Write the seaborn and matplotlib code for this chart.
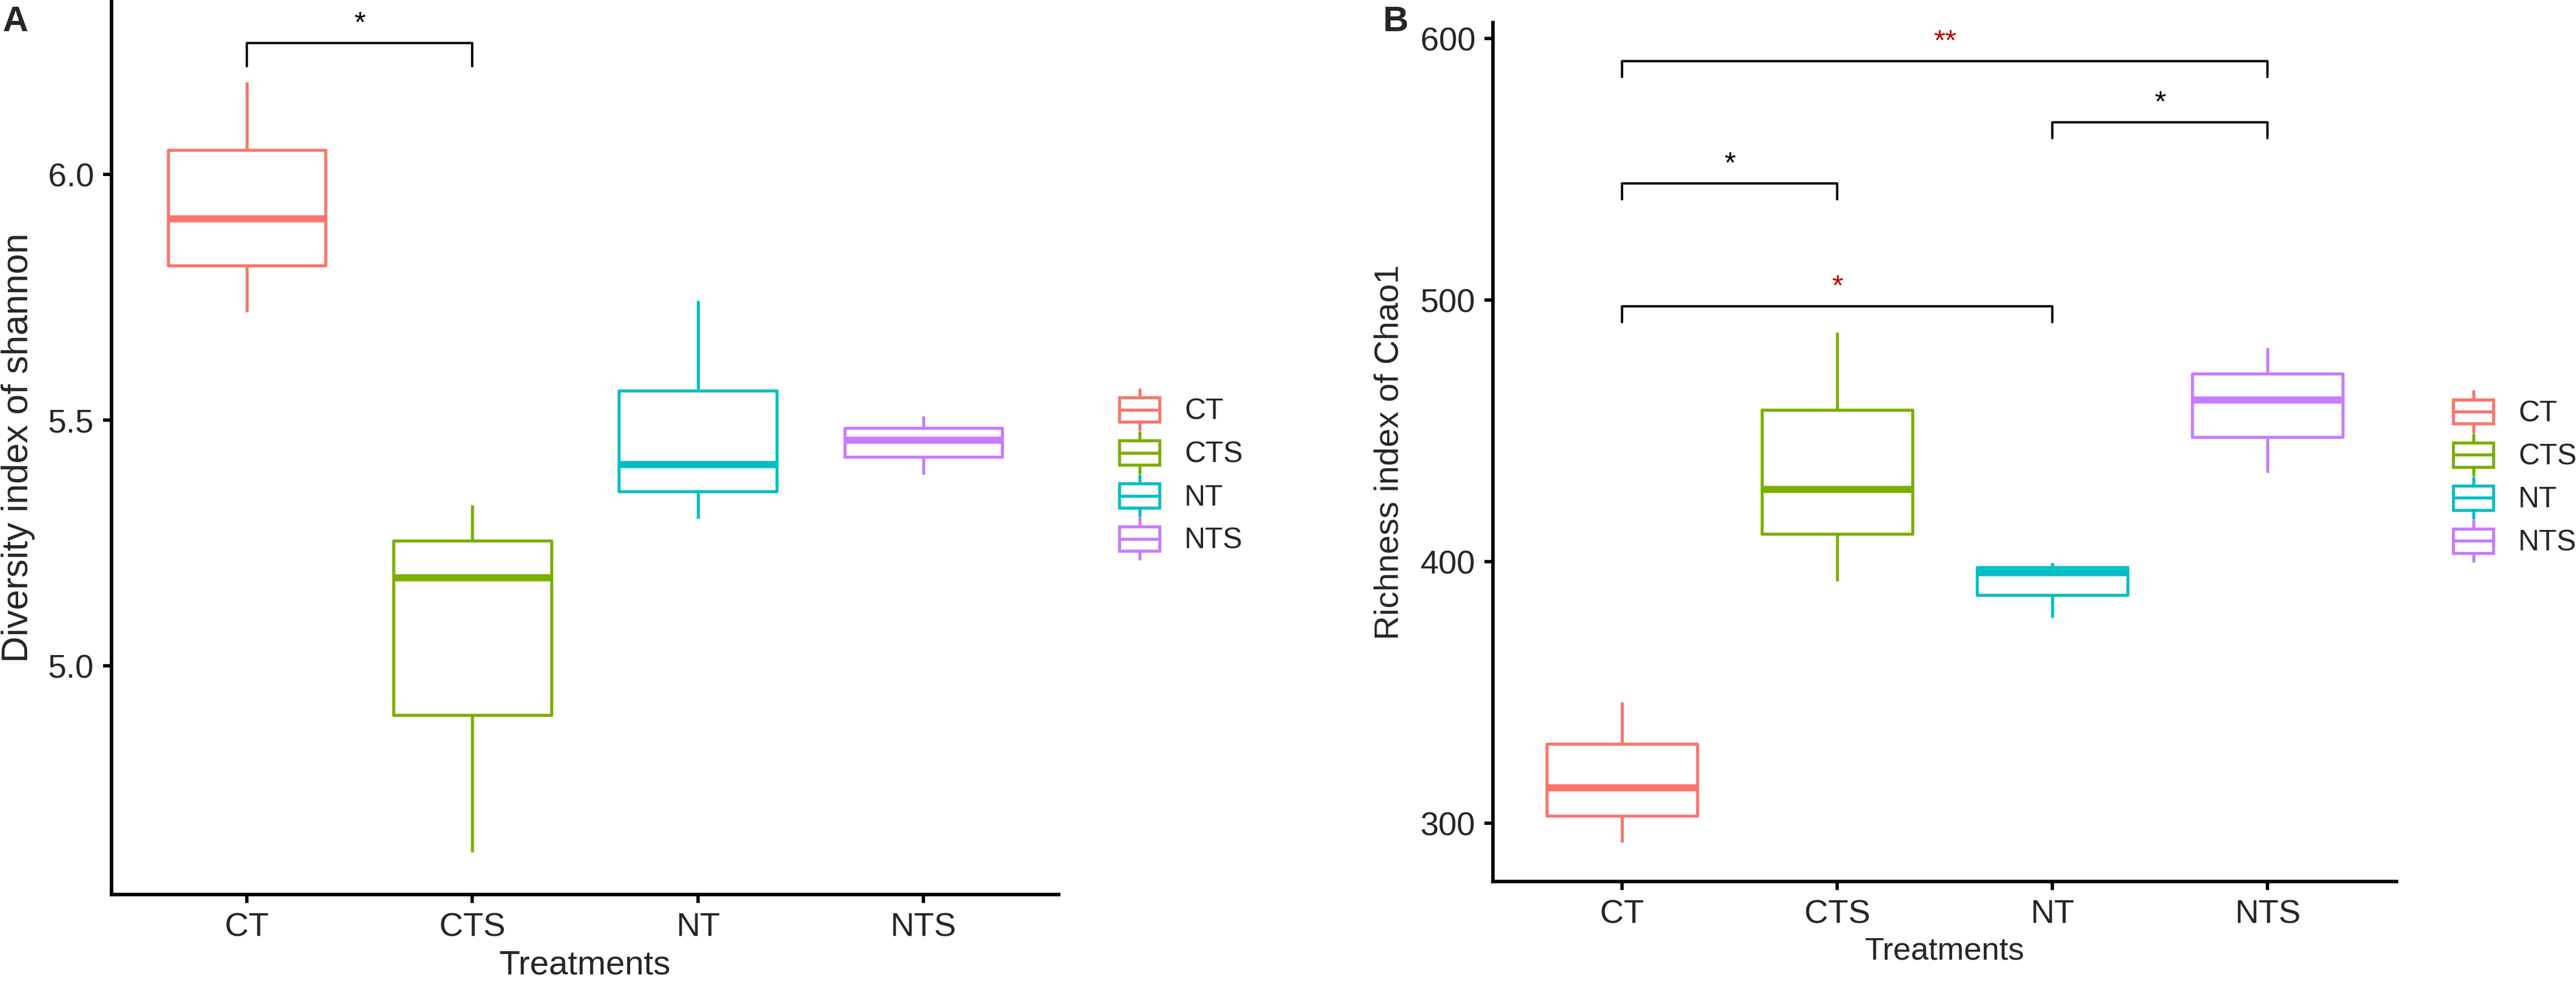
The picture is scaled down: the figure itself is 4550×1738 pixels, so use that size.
import numpy as np
import pandas as pd
import matplotlib
matplotlib.use('Agg')
import matplotlib.pyplot as plt
import seaborn as sns
from matplotlib.patches import Patch, Rectangle
from matplotlib.lines import Line2D
from matplotlib.legend_handler import HandlerBase

# Groups and colours (ggplot default hue palette)
groups = ['CT', 'CTS', 'NT', 'NTS']
colors = ['#F8766D', '#7CAE00', '#00BFC4', '#C77CFF']

# Shannon diversity: min, Q1, median, Q3, max
shannon_CT = [5.72, 5.815, 5.91, 6.05, 6.188]
shannon_CTS = [4.621, 4.90, 5.18, 5.255, 5.328]
shannon_NT = [5.30, 5.355, 5.41, 5.56, 5.744]
shannon_NTS = [5.39, 5.425, 5.46, 5.484, 5.508]

# Chao1 richness: min, Q1, median, Q3, max
chao1_CT = [292.6, 302.8, 313.6, 330.3, 346.3]
chao1_CTS = [392.6, 410.6, 427.7, 458.0, 487.7]
chao1_NT = [378.6, 387.2, 396.0, 397.8, 399.6]
chao1_NTS = [434.0, 447.6, 462.0, 471.9, 481.8]

# Significance brackets: (group1, group2, bracket height, label, colour)
sig_shannon = [('CT', 'CTS', 6.268, '*', 'black')]
sig_chao1 = [('CT', 'NTS', 591.3, '**', '#C00000'),
             ('NT', 'NTS', 568.0, '*', 'black'),
             ('CT', 'CTS', 544.6, '*', 'black'),
             ('CT', 'NT', 497.6, '*', '#C00000')]

df_shannon = pd.DataFrame({
    'Treatments': np.repeat(groups, 5),
    'value': np.concatenate([shannon_CT, shannon_CTS, shannon_NT, shannon_NTS]),
})
df_chao1 = pd.DataFrame({
    'Treatments': np.repeat(groups, 5),
    'value': np.concatenate([chao1_CT, chao1_CTS, chao1_NT, chao1_NTS]),
})

sns.set_style('ticks')
plt.rcParams['font.family'] = ['Liberation Sans', 'DejaVu Sans']


class BoxHandler(HandlerBase):
    # legend key drawn as a small boxplot glyph
    def create_artists(self, legend, orig_handle, xdescent, ydescent,
                       width, height, fontsize, trans):
        c = orig_handle.get_edgecolor()
        x0, y0 = -xdescent, -ydescent
        xm = x0 + width / 2
        lw = 1.3
        rect = Rectangle((x0, y0 + 0.17 * height), width, 0.66 * height,
                         facecolor='none', edgecolor=c, lw=lw, transform=trans)
        med = Line2D([x0, x0 + width], [y0 + 0.5 * height] * 2, color=c, lw=lw, transform=trans)
        w1 = Line2D([xm, xm], [y0 - 0.05 * height, y0 + 0.17 * height], color=c, lw=lw, transform=trans)
        w2 = Line2D([xm, xm], [y0 + 0.83 * height, y0 + 1.05 * height], color=c, lw=lw, transform=trans)
        return [rect, med, w1, w2]


def draw_panel(ax, df, ylabel, ylim, yticks, sigs, tip, ylab_size, xlab_size, ylab_pad, legend_anchor):
    sns.boxplot(data=df, x='Treatments', y='value', hue='Treatments',
                order=groups, hue_order=groups, palette=colors,
                fill=False, width=0.7, showcaps=False, linewidth=1.3,
                medianprops=dict(linewidth=3), legend=False, ax=ax)
    ax.set_xlim(-0.6, 3.6)
    ax.set_ylim(*ylim)
    ax.set_yticks(yticks)
    ax.set_ylabel(ylabel, fontsize=ylab_size, labelpad=ylab_pad)
    ax.set_xlabel('Treatments', fontsize=xlab_size, labelpad=3)
    ax.tick_params(axis='both', labelsize=14, length=3.5, width=1.4, pad=4, color='black')
    for s in ['top', 'right']:
        ax.spines[s].set_visible(False)
    for s in ['left', 'bottom']:
        ax.spines[s].set_linewidth(1.5)
        ax.spines[s].set_color('black')

    for g1, g2, yb, lab, col in sigs:
        x1, x2 = groups.index(g1), groups.index(g2)
        ax.plot([x1, x1, x2, x2], [yb - tip, yb, yb, yb - tip], color='black', lw=1.0)
        ax.annotate(lab, xy=((x1 + x2) / 2, yb), xytext=(0, 2), textcoords='offset points',
                    ha='center', va='bottom', fontsize=12.5, color=col)

    handles = [Patch(edgecolor=c, facecolor='none') for c in colors]
    ax.legend(handles, groups, loc='center left', bbox_to_anchor=legend_anchor,
              bbox_transform=ax.figure.transFigure, frameon=False, borderpad=0,
              borderaxespad=0, handler_map={Patch: BoxHandler()}, handlelength=1.38,
              handleheight=1.55, labelspacing=0.22, handletextpad=0.85, fontsize=12.4)


fig = plt.figure(figsize=(4550 / 300, 1738 / 300), dpi=300)
axA = fig.add_axes([0.0433, 0.0909, 0.3677, 0.908])
axB = fig.add_axes([0.5796, 0.1041, 0.3508, 0.8729])

draw_panel(axA, df_shannon, 'Diversity index of shannon', (4.535, 6.353),
           [5.0, 5.5, 6.0], sig_shannon, 0.048, 15.5, 14.5, 5.5, (0.4345, 0.518))
draw_panel(axB, df_chao1, 'Richness index of Chao1', (277.7, 606.1),
           [300, 400, 500, 600], sig_chao1, 6.0, 14.3, 13.5, 6.5, (0.9523, 0.516))

fig.text(0.001, 0.995, 'A', fontsize=15, fontweight='bold', va='top', ha='left')
fig.text(2443 / 4550, 0.995, 'B', fontsize=15, fontweight='bold', va='top', ha='left')

fig.savefig('out.png', dpi=300)
